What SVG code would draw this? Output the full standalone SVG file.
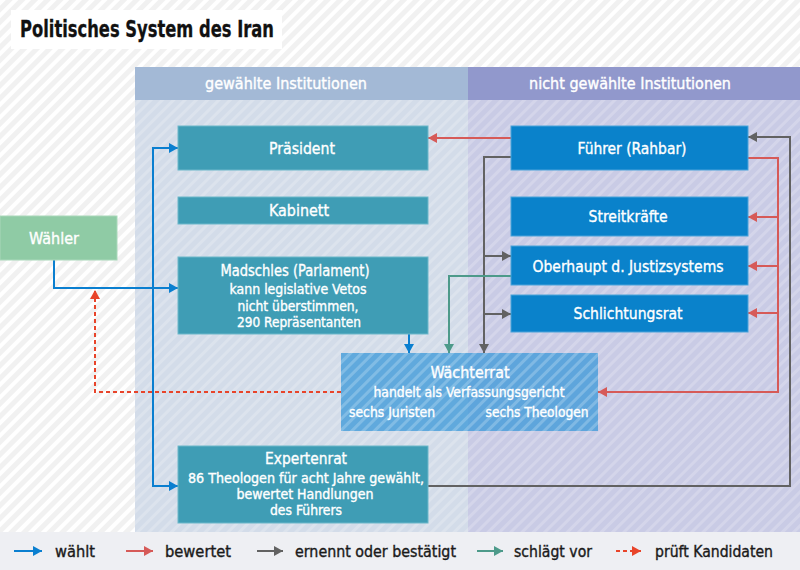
<svg xmlns="http://www.w3.org/2000/svg" width="800" height="570" viewBox="0 0 800 570">
<defs>
<pattern id="bgstripes" width="9" height="9" patternUnits="userSpaceOnUse" patternTransform="rotate(45)">
<rect width="9" height="9" fill="#f1f1f1"/>
<rect width="4" height="9" fill="#ffffff"/>
</pattern>
<pattern id="wstripes" width="8" height="8" patternUnits="userSpaceOnUse" patternTransform="rotate(45)">
<rect width="3" height="8" fill="#ffffff" fill-opacity="0.2"/>
</pattern>
<marker id="aBlue" markerUnits="userSpaceOnUse" markerWidth="9" markerHeight="10" refX="9" refY="5" orient="auto"><path d="M0,0 L9,5 L0,10 z" fill="#0a7fd0"/></marker>
<marker id="aRed" markerUnits="userSpaceOnUse" markerWidth="9" markerHeight="10" refX="9" refY="5" orient="auto"><path d="M0,0 L9,5 L0,10 z" fill="#d65a58"/></marker>
<marker id="aGray" markerUnits="userSpaceOnUse" markerWidth="9" markerHeight="10" refX="9" refY="5" orient="auto"><path d="M0,0 L9,5 L0,10 z" fill="#626262"/></marker>
<marker id="aGreen" markerUnits="userSpaceOnUse" markerWidth="9" markerHeight="10" refX="9" refY="5" orient="auto"><path d="M0,0 L9,5 L0,10 z" fill="#4d9a8a"/></marker>
<marker id="aOrange" markerUnits="userSpaceOnUse" markerWidth="9" markerHeight="10" refX="9" refY="5" orient="auto"><path d="M0,0 L9,5 L0,10 z" fill="#e8442a"/></marker>
</defs>
<style>
text{font-family:"DejaVu Sans Condensed","DejaVu Sans","Liberation Sans",sans-serif;fill:#ffffff;stroke:#ffffff;stroke-width:0.35px}
.t{font-size:16.5px;text-anchor:middle}
.s{font-size:13.5px;text-anchor:middle}
.h{font-size:15.5px;text-anchor:middle}
.lg{font-size:15.5px;fill:#1a1a1a;stroke:#1a1a1a}
.teal{fill:#3f9db5;stroke:#6cb7ca;stroke-width:1}
.blue{fill:#0a82cb;stroke:#4aa3da;stroke-width:1}
.c{fill:none;stroke-width:2}
.cb{stroke:#0a7fd0;marker-end:url(#aBlue)}
.cr{stroke:#d65a58;marker-end:url(#aRed)}
.cg{stroke:#626262;marker-end:url(#aGray)}
.cgr{stroke:#4d9a8a;marker-end:url(#aGreen)}
.co{stroke:#e8442a;stroke-dasharray:4 3;marker-end:url(#aOrange)}
</style>
<rect x="0" y="0" width="800" height="570" fill="url(#bgstripes)"/>
<g id="panels">
<rect x="135" y="67" width="333" height="33" fill="#a3b9d6"/>
<rect x="135" y="100" width="333" height="432" fill="#d3dce9"/>
<rect x="468" y="67" width="332" height="33" fill="#9198cc"/>
<rect x="468" y="100" width="332" height="432" fill="#c9cbe5"/>
<rect x="135" y="100" width="665" height="432" fill="url(#wstripes)"/>
<text class="h" x="286" y="89" textLength="162" lengthAdjust="spacingAndGlyphs">gewählte Institutionen</text>
<text class="h" x="630" y="89" textLength="202" lengthAdjust="spacingAndGlyphs">nicht gewählte Institutionen</text>
</g>
<g id="title">
<rect x="11" y="10" width="271" height="39" fill="#ffffff" stroke="none"/>
<text x="20" y="37" style="font-size:23px;font-weight:bold;fill:#111111;stroke:#111111;stroke-width:0.3px" textLength="254" lengthAdjust="spacingAndGlyphs">Politisches System des Iran</text>
</g>
<g id="legend">
<rect x="0" y="532" width="800" height="38" fill="#eeeff3"/>
<path class="c cb" d="M14,551 H42"/>
<text class="lg" x="55" y="557" textLength="40" lengthAdjust="spacingAndGlyphs">wählt</text>
<path class="c cr" d="M126,551 H153"/>
<text class="lg" x="165" y="557" textLength="66" lengthAdjust="spacingAndGlyphs">bewertet</text>
<path class="c cg" d="M257,551 H283"/>
<text class="lg" x="295" y="557" textLength="161" lengthAdjust="spacingAndGlyphs">ernennt oder bestätigt</text>
<path class="c cgr" d="M477,551 H503"/>
<text class="lg" x="514" y="557" textLength="78" lengthAdjust="spacingAndGlyphs">schlägt vor</text>
<path class="c co" d="M616,551 H641"/>
<text class="lg" x="655" y="557" textLength="118" lengthAdjust="spacingAndGlyphs">prüft Kandidaten</text>
</g>
<g id="connectors">
<path class="c cb" d="M54,260 V288 H178"/>
<path class="c cb" d="M153,290 V148 H178"/>
<path class="c cb" d="M153,286 V486 H178"/>
<path class="c cb" d="M409,334 V353"/>
<path class="c co" d="M341,392 H95 V290"/>
<path class="c cr" d="M511,138 H428"/>
<path class="c cr" d="M748,158 H778 V392 H598"/>
<path class="c cr" d="M778,217 H748"/>
<path class="c cr" d="M778,266 H748"/>
<path class="c cr" d="M778,313 H748"/>
<path class="c cg" d="M428,486 H790 V137 H748"/>
<path class="c cg" d="M511,157 H484 V353"/>
<path class="c cg" d="M484,256 H511"/>
<path class="c cg" d="M484,314 H511"/>
<path class="c cgr" d="M511,276 H449 V353"/>
</g>
<g id="waehler">
<rect x="0" y="216" width="117" height="44" fill="#8fcba5" stroke="#a9d8ba"/>
<text class="t" x="54" y="244" textLength="50" lengthAdjust="spacingAndGlyphs">Wähler</text>
</g>
<g id="praesident">
<rect class="teal" x="178" y="126" width="250" height="44"/>
<text class="t" x="302" y="154" textLength="66" lengthAdjust="spacingAndGlyphs">Präsident</text>
</g>
<g id="kabinett">
<rect class="teal" x="178" y="197" width="250" height="27"/>
<text class="t" x="299" y="216" textLength="60" lengthAdjust="spacingAndGlyphs">Kabinett</text>
</g>
<g id="madschles">
<rect class="teal" x="178" y="257" width="250" height="77"/>
<text class="t" x="295" y="276" textLength="149" lengthAdjust="spacingAndGlyphs">Madschles (Parlament)</text>
<text class="s" x="298" y="294" textLength="137" lengthAdjust="spacingAndGlyphs">kann legislative Vetos</text>
<text class="s" x="298" y="311" textLength="121" lengthAdjust="spacingAndGlyphs">nicht überstimmen,</text>
<text class="s" x="299" y="327" textLength="124" lengthAdjust="spacingAndGlyphs">290 Repräsentanten</text>
</g>
<g id="expertenrat">
<rect class="teal" x="178" y="446" width="250" height="77"/>
<text class="t" x="306" y="464" textLength="82" lengthAdjust="spacingAndGlyphs">Expertenrat</text>
<text class="s" x="306" y="483" textLength="236" lengthAdjust="spacingAndGlyphs">86 Theologen für acht Jahre gewählt,</text>
<text class="s" x="305" y="499" textLength="137" lengthAdjust="spacingAndGlyphs">bewertet Handlungen</text>
<text class="s" x="306" y="515" textLength="72" lengthAdjust="spacingAndGlyphs">des Führers</text>
</g>
<g id="waechterrat">
<rect x="341" y="353" width="257" height="78" fill="#3a98d8" fill-opacity="0.75"/>
<rect x="341" y="353" width="257" height="78" fill="url(#wstripes)"/>
<text class="t" x="470" y="378" textLength="79" lengthAdjust="spacingAndGlyphs">Wächterrat</text>
<text class="s" x="469" y="397" textLength="191" lengthAdjust="spacingAndGlyphs">handelt als Verfassungsgericht</text>
<text class="s" x="392" y="417" textLength="86" lengthAdjust="spacingAndGlyphs">sechs Juristen</text>
<text class="s" x="537" y="417" textLength="103" lengthAdjust="spacingAndGlyphs">sechs Theologen</text>
</g>
<g id="fuehrer">
<rect class="blue" x="511" y="126" width="237" height="44"/>
<text class="t" x="632" y="154" textLength="109" lengthAdjust="spacingAndGlyphs">Führer (Rahbar)</text>
</g>
<g id="streitkraefte">
<rect class="blue" x="511" y="197" width="237" height="39"/>
<text class="t" x="628" y="222" textLength="79" lengthAdjust="spacingAndGlyphs">Streitkräfte</text>
</g>
<g id="oberhaupt">
<rect class="blue" x="511" y="246" width="237" height="39"/>
<text class="t" x="628" y="272" textLength="191" lengthAdjust="spacingAndGlyphs">Oberhaupt d. Justizsystems</text>
</g>
<g id="schlichtungsrat">
<rect class="blue" x="511" y="295" width="237" height="37"/>
<text class="t" x="628" y="319" textLength="109" lengthAdjust="spacingAndGlyphs">Schlichtungsrat</text>
</g>
</svg>
